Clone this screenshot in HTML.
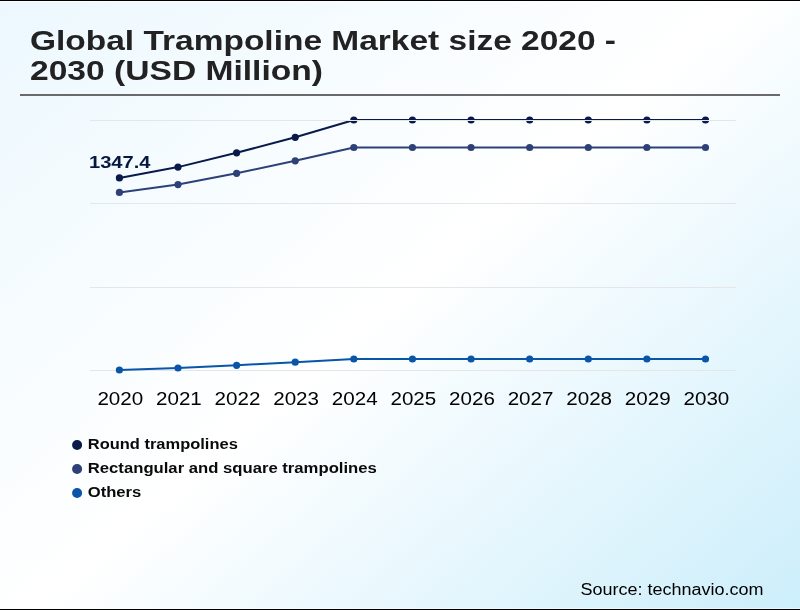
<!DOCTYPE html>
<html><head><meta charset="utf-8"><title>Global Trampoline Market size 2020 - 2030 (USD Million)</title>
<style>
html,body{margin:0;padding:0;}
body{width:800px;height:610px;overflow:hidden;font-family:"Liberation Sans",sans-serif;}
#c{position:relative;width:800px;height:610px;background:linear-gradient(139.5deg,#ecf8fe 0%,#ffffff 49.5%,#cceefb 100%);overflow:hidden;filter:url(#sh);}
#c svg{position:absolute;left:0;top:0;display:block;}
#c svg text{font-family:"Liberation Sans","DejaVu Sans",sans-serif;}
</style></head><body>
<svg width="0" height="0" style="position:absolute"><defs><filter id="sh" x="0" y="0" width="100%" height="100%" color-interpolation-filters="sRGB"><feGaussianBlur in="SourceGraphic" stdDeviation="0.7" result="b"/><feComposite in="SourceGraphic" in2="b" operator="arithmetic" k1="0" k2="1.6" k3="-0.6" k4="0"/></filter></defs></svg>
<div id="c">
<svg width="800" height="610" viewBox="0 0 800 610">
<text x="30" y="50" font-size="28" font-weight="bold" fill="#222222" textLength="586" lengthAdjust="spacingAndGlyphs">Global Trampoline Market size 2020 -</text>
<text x="30" y="80.3" font-size="28" font-weight="bold" fill="#222222" textLength="293" lengthAdjust="spacingAndGlyphs">2030 (USD Million)</text>
<rect x="20" y="94" width="760" height="2" fill="#6a6a6a"/>
<rect x="90" y="203" width="646" height="1" fill="#e6e6e6"/>
<rect x="90" y="287" width="646" height="1" fill="#e6e6e6"/>
<rect x="90" y="370" width="646" height="1" fill="#e6e6e6"/>
<polyline fill="none" stroke="#0956a9" stroke-width="2" stroke-linejoin="round" stroke-linecap="round" points="119.4,370 178.01,368 236.62,365.3 295.23,362.2 353.84,359 412.45,359 471.06,359 529.67,359 588.28,359 646.89,359 705.5,359"/>
<circle cx="119.4" cy="370" r="3.6" fill="#0956a9"/>
<circle cx="178.01" cy="368" r="3.6" fill="#0956a9"/>
<circle cx="236.62" cy="365.3" r="3.6" fill="#0956a9"/>
<circle cx="295.23" cy="362.2" r="3.6" fill="#0956a9"/>
<circle cx="353.84" cy="359" r="3.6" fill="#0956a9"/>
<circle cx="412.45" cy="359" r="3.6" fill="#0956a9"/>
<circle cx="471.06" cy="359" r="3.6" fill="#0956a9"/>
<circle cx="529.67" cy="359" r="3.6" fill="#0956a9"/>
<circle cx="588.28" cy="359" r="3.6" fill="#0956a9"/>
<circle cx="646.89" cy="359" r="3.6" fill="#0956a9"/>
<circle cx="705.5" cy="359" r="3.6" fill="#0956a9"/>
<polyline fill="none" stroke="#2d4178" stroke-width="2" stroke-linejoin="round" stroke-linecap="round" points="119.4,192.45 178.01,184.6 236.62,173.3 295.23,160.8 353.84,147.5 412.45,147.5 471.06,147.5 529.67,147.5 588.28,147.5 646.89,147.5 705.5,147.5"/>
<circle cx="119.4" cy="192.45" r="3.6" fill="#2d4178"/>
<circle cx="178.01" cy="184.6" r="3.6" fill="#2d4178"/>
<circle cx="236.62" cy="173.3" r="3.6" fill="#2d4178"/>
<circle cx="295.23" cy="160.8" r="3.6" fill="#2d4178"/>
<circle cx="353.84" cy="147.5" r="3.6" fill="#2d4178"/>
<circle cx="412.45" cy="147.5" r="3.6" fill="#2d4178"/>
<circle cx="471.06" cy="147.5" r="3.6" fill="#2d4178"/>
<circle cx="529.67" cy="147.5" r="3.6" fill="#2d4178"/>
<circle cx="588.28" cy="147.5" r="3.6" fill="#2d4178"/>
<circle cx="646.89" cy="147.5" r="3.6" fill="#2d4178"/>
<circle cx="705.5" cy="147.5" r="3.6" fill="#2d4178"/>
<polyline fill="none" stroke="#091a4a" stroke-width="2" stroke-linejoin="round" stroke-linecap="round" points="119.4,177.95 178.01,167.1 236.62,152.8 295.23,137.3 353.84,120 412.45,120 471.06,120 529.67,120 588.28,120 646.89,120 705.5,120"/>
<circle cx="119.4" cy="177.95" r="3.6" fill="#091a4a"/>
<circle cx="178.01" cy="167.1" r="3.6" fill="#091a4a"/>
<circle cx="236.62" cy="152.8" r="3.6" fill="#091a4a"/>
<circle cx="295.23" cy="137.3" r="3.6" fill="#091a4a"/>
<circle cx="353.84" cy="120" r="3.6" fill="#091a4a"/>
<circle cx="412.45" cy="120" r="3.6" fill="#091a4a"/>
<circle cx="471.06" cy="120" r="3.6" fill="#091a4a"/>
<circle cx="529.67" cy="120" r="3.6" fill="#091a4a"/>
<circle cx="588.28" cy="120" r="3.6" fill="#091a4a"/>
<circle cx="646.89" cy="120" r="3.6" fill="#091a4a"/>
<circle cx="705.5" cy="120" r="3.6" fill="#091a4a"/>
<rect x="90" y="120" width="646" height="1" fill="#e6e6e6"/>
<text x="89" y="168" font-size="16" font-weight="bold" fill="#07183f" textLength="61.5" lengthAdjust="spacingAndGlyphs">1347.4</text>
<text x="97.4" y="404.6" font-size="18" fill="#000" textLength="45.8" lengthAdjust="spacingAndGlyphs">2020</text>
<text x="156.01" y="404.6" font-size="18" fill="#000" textLength="45.8" lengthAdjust="spacingAndGlyphs">2021</text>
<text x="214.62" y="404.6" font-size="18" fill="#000" textLength="45.8" lengthAdjust="spacingAndGlyphs">2022</text>
<text x="273.23" y="404.6" font-size="18" fill="#000" textLength="45.8" lengthAdjust="spacingAndGlyphs">2023</text>
<text x="331.84" y="404.6" font-size="18" fill="#000" textLength="45.8" lengthAdjust="spacingAndGlyphs">2024</text>
<text x="390.45" y="404.6" font-size="18" fill="#000" textLength="45.8" lengthAdjust="spacingAndGlyphs">2025</text>
<text x="449.06" y="404.6" font-size="18" fill="#000" textLength="45.8" lengthAdjust="spacingAndGlyphs">2026</text>
<text x="507.67" y="404.6" font-size="18" fill="#000" textLength="45.8" lengthAdjust="spacingAndGlyphs">2027</text>
<text x="566.28" y="404.6" font-size="18" fill="#000" textLength="45.8" lengthAdjust="spacingAndGlyphs">2028</text>
<text x="624.89" y="404.6" font-size="18" fill="#000" textLength="45.8" lengthAdjust="spacingAndGlyphs">2029</text>
<text x="683.5" y="404.6" font-size="18" fill="#000" textLength="45.8" lengthAdjust="spacingAndGlyphs">2030</text>
<circle cx="77.1" cy="445" r="5" fill="#091a4a"/>
<text x="87.8" y="449" font-size="14" font-weight="bold" fill="#0a0a0a" textLength="150" lengthAdjust="spacingAndGlyphs">Round trampolines</text>
<circle cx="77.1" cy="469" r="5" fill="#2d4178"/>
<text x="87.8" y="473" font-size="14" font-weight="bold" fill="#0a0a0a" textLength="289" lengthAdjust="spacingAndGlyphs">Rectangular and square trampolines</text>
<circle cx="77.1" cy="493" r="5" fill="#0956a9"/>
<text x="87.8" y="497" font-size="14" font-weight="bold" fill="#0a0a0a" textLength="53.5" lengthAdjust="spacingAndGlyphs">Others</text>
<text x="580.45" y="595.1" font-size="16" fill="#000" textLength="183" lengthAdjust="spacingAndGlyphs">Source: technavio.com</text>
<rect x="0" y="0" width="800" height="1" fill="#000"/><rect x="0" y="1" width="800" height="1" fill="#fff" fill-opacity="0.8"/>
<rect x="0" y="609" width="800" height="1" fill="#000"/><rect x="0" y="608" width="800" height="1" fill="#fff" fill-opacity="0.45"/>
</svg>
</div></body></html>
